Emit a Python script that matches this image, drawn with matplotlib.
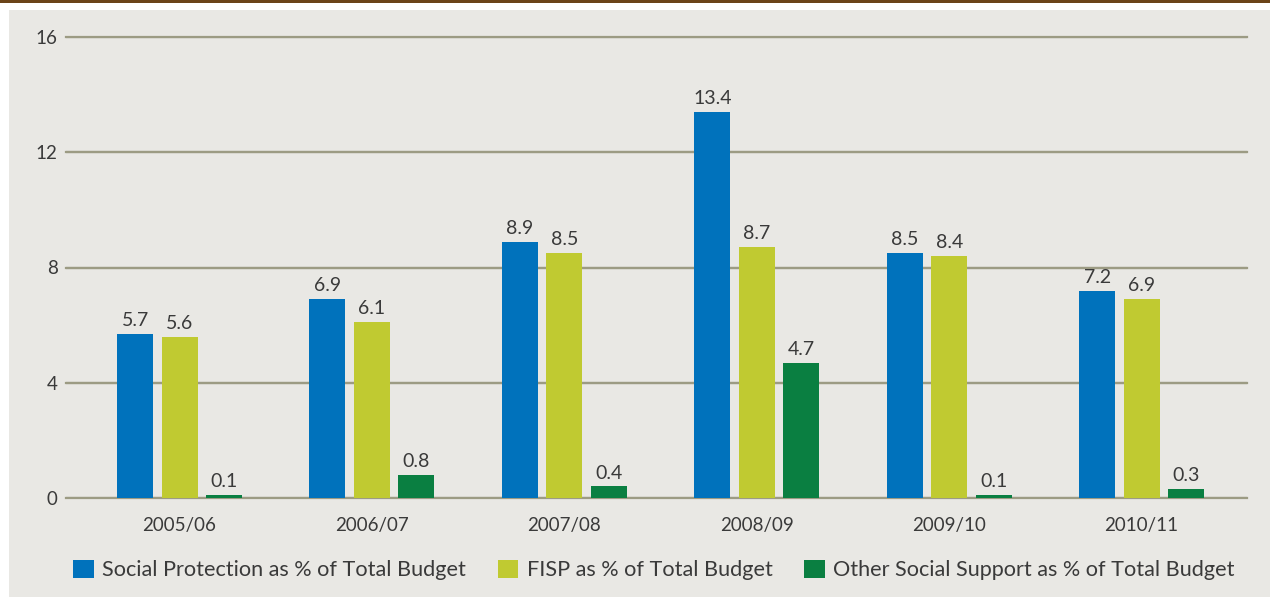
import matplotlib
matplotlib.use("Agg")
import matplotlib.pyplot as plt
from matplotlib.patches import Rectangle

categories = ["2005/06", "2006/07", "2007/08", "2008/09", "2009/10", "2010/11"]
social_protection = [5.7, 6.9, 8.9, 13.4, 8.5, 7.2]
fisp = [5.6, 6.1, 8.5, 8.7, 8.4, 6.9]
other_support = [0.1, 0.8, 0.4, 4.7, 0.1, 0.3]
series_names = ["Social Protection as % of Total Budget",
                "FISP as % of Total Budget",
                "Other Social Support as % of Total Budget"]
y_ticks = [0, 4, 8, 12, 16]

colors = ["#0072bc", "#c0ca31", "#0a7f41"]
bg = "#e9e8e4"
text_col = "#3a3a3a"
grid_col = "#9c9b83"
FONT = ["Lato", "DejaVu Sans"]
plt.rcParams["font.family"] = FONT
plt.rcParams["font.weight"] = "normal"

W, H = 1270, 600
fig = plt.figure(figsize=(W / 100, H / 100), dpi=100)
fig.patch.set_facecolor("white")
fig.patches.append(Rectangle((9 / W, 3 / H), 1 - 9 / W, 587 / H,
                             transform=fig.transFigure, facecolor=bg,
                             edgecolor="none", zorder=-10))
fig.patches.append(Rectangle((0, 1 - 3 / H), 1, 3 / H,
                             transform=fig.transFigure, facecolor="#6b4418",
                             edgecolor="none", zorder=-10))

ax = fig.add_axes([66 / W, (H - 498) / H, (1247 - 66) / W, (498 - 37) / H])
ax.set_facecolor("none")

x = list(range(len(categories)))
width = 0.187
offset = 0.231
handles = []
for k, (vals, col, name) in enumerate(zip([social_protection, fisp, other_support],
                                          colors, series_names)):
    pos = [xi + (k - 1) * offset for xi in x]
    b = ax.bar(pos, vals, width=width, color=col, label=name, zorder=3)
    handles.append(b)
    for p, v in zip(pos, vals):
        ax.annotate(f"{v:.1f}", (p, v), xytext=(0, 3.5), textcoords="offset points",
                    ha="center", va="bottom", fontsize=14, color=text_col)

ax.set_xlim(-0.59, 5.548)
ax.set_ylim(0, 16)
ax.set_yticks(y_ticks)
ax.set_xticks(x)
ax.set_xticklabels(categories)
for s in ax.spines.values():
    s.set_visible(False)
ax.tick_params(axis="both", length=0, colors=text_col)
ax.tick_params(axis="x", pad=14, labelsize=13.5)
ax.tick_params(axis="y", pad=6, labelsize=13.5)
ax.yaxis.grid(True, color=grid_col, linewidth=1.6, zorder=0)
ax.set_axisbelow(True)
for t in y_ticks:
    ax.axhline(t, color=grid_col, linewidth=1.6, zorder=1, clip_on=False)

leg = fig.legend(handles=handles, labels=series_names, loc="center left",
                 bbox_to_anchor=(73 / W, 1 - 570 / H), ncol=3, frameon=False,
                 fontsize=15.6, handlelength=0.95, handleheight=0.95,
                 handletextpad=0.4, columnspacing=1.45, borderaxespad=0,
                 borderpad=0)
for t in leg.get_texts():
    t.set_color(text_col)

fig.savefig("out.png", dpi=100, facecolor="white")
